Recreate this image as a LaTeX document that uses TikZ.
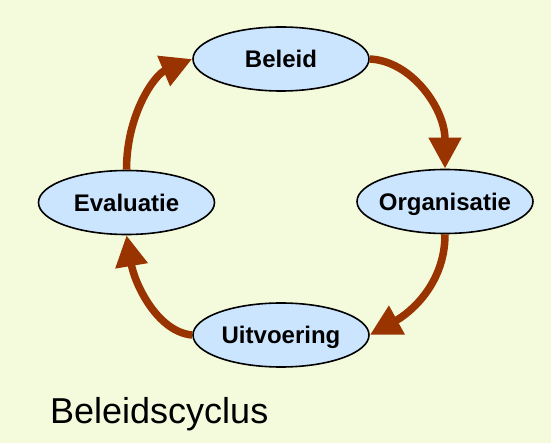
\documentclass[tikz,border=0pt]{standalone}
\usepackage{fontspec}
\setmainfont{Liberation Sans}
\usetikzlibrary{shapes.geometric,arrows.meta}
\definecolor{bgcol}{RGB}{244,250,220}
\definecolor{ellfill}{RGB}{204,229,255}
\definecolor{arrcol}{RGB}{153,51,0}
\tikzset{
  stage/.style={ellipse, draw=black, line width=1.6pt, fill=ellfill,
    minimum width=176pt, minimum height=64pt, inner sep=0pt,
    text height=17.2pt, text depth=0pt,
    font=\fontsize{24}{28}\selectfont\bfseries},
  cyclearrow/.style={draw=arrcol, line width=7.5pt,
    -{Triangle[length=31pt,width=31pt]}},
}
\newcommand{\lbl}[1]{\makebox[0pt]{#1}}
\begin{document}
\begin{tikzpicture}[x=1pt,y=-1pt]
  \fill[bgcol] (0,0) rectangle (551,443);
  \useasboundingbox (0,0) rectangle (551,443);
  \node[stage] (b) at (281,59) {\lbl{Beleid}};
  \node[stage] (o) at (445,201.5) {\lbl{Organisatie}};
  \node[stage] (u) at (281,335) {\lbl{Uitvoering}};
  \node[stage] (e) at (126.5,202.5) {\lbl{Evaluatie}};
  \node[anchor=base west, inner sep=0pt, font=\fontsize{36}{40}\selectfont] (t) at (50,423) {Beleidscyclus};
  \draw[cyclearrow] (b.east) .. controls +(42,2) and +(0,-60) .. (o.north);
  \draw[cyclearrow] (o.south) .. controls +(0,50) and +(40,-22) .. (u.east);
  \draw[cyclearrow] (u.west) .. controls +(-35,-3) and +(8,48) .. (e.south);
  \draw[cyclearrow] (e.north) .. controls +(0,-55) and +(-38,16) .. (b.west);
\end{tikzpicture}
\end{document}
